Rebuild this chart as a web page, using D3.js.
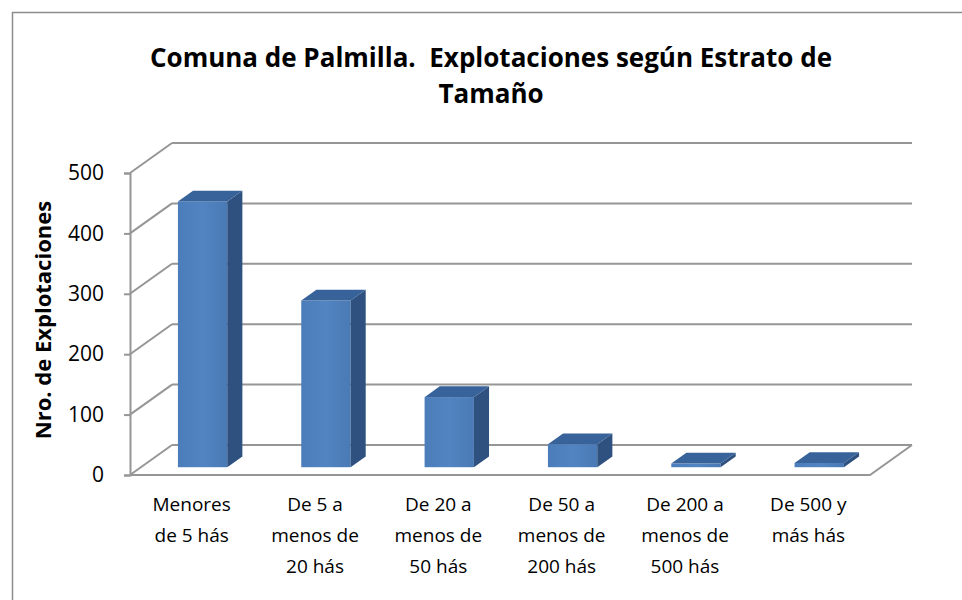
<!DOCTYPE html>
<html>
<head>
<meta charset="utf-8">
<script src="https://cdn.jsdelivr.net/npm/d3@7"></script>
<style>
  body { margin: 0; background: #fff; }
  svg { font-family: "Liberation Sans Narrow", "Open Sans", sans-serif; }
</style>
</head>
<body>
<svg id="chart" width="962" height="600"></svg>
<script>
const categories = [
    ["Menores", "de 5 hás"],
    ["De 5 a", "menos de", "20 hás"],
    ["De 20 a", "menos de", "50 hás"],
    ["De 50 a", "menos de", "200 hás"],
    ["De 200 a", "menos de", "500 hás"],
    ["De 500 y", "más hás"]
];
const values = [440, 276, 116, 38, 6, 7];
const yTicks = [0, 100, 200, 300, 400, 500];
const titleLines = ["Comuna de Palmilla.  Explotaciones según Estrato de", "Tamaño"];
const yTitle = "Nro. de Explotaciones";

const svg = d3.select("#chart");

// depth offset of the back wall
const DX = 42, DY = -30;
const barT0 = 0.26, barT1 = 0.62;

const keys = categories.map((c, i) => i);
const xScale = d3.scaleBand()
    .domain(keys)
    .range([130, 870])
    .paddingInner(0.6)
    .paddingOuter(0.3);

const yScale = d3.scaleLinear()
    .domain([0, 500])
    .range([475, 173]);

// subtle shading on bar fronts
const grad = svg.append("defs").append("linearGradient")
    .attr("id", "front").attr("x1", 0).attr("x2", 1).attr("y1", 0).attr("y2", 0);
grad.append("stop").attr("offset", 0).attr("stop-color", "#4c7dbb");
grad.append("stop").attr("offset", 0.5).attr("stop-color", "#5184c1");
grad.append("stop").attr("offset", 1).attr("stop-color", "#4a7ab6");

// outer border
svg.append("rect")
    .attr("x", 12.5).attr("y", 12.5)
    .attr("width", 990).attr("height", 620)
    .attr("fill", "none")
    .attr("stroke", "#8c8c8c")
    .attr("stroke-width", 1.5);

// title
svg.append("g").selectAll("text")
    .data(titleLines)
    .enter().append("text")
    .attr("x", 491)
    .attr("y", (d, i) => 67 + i * 36)
    .attr("text-anchor", "middle")
    .attr("font-size", 26)
    .attr("font-weight", "bold")
    .style("white-space", "pre")
    .text(d => d);

const grid = svg.append("g")
    .attr("stroke", "#969696")
    .attr("stroke-width", 2)
    .attr("fill", "none");

// back wall gridlines
grid.selectAll(".back")
    .data(yTicks)
    .enter().append("line")
    .attr("x1", 130 + DX).attr("x2", 870 + DX)
    .attr("y1", d => yScale(d) + DY).attr("y2", d => yScale(d) + DY);

// side wall lines
grid.selectAll(".side")
    .data(yTicks)
    .enter().append("line")
    .attr("x1", 130).attr("x2", 130 + DX)
    .attr("y1", d => yScale(d)).attr("y2", d => yScale(d) + DY);

// floor front + right edge
grid.append("path")
    .attr("d", `M130,${yScale(0)}L870,${yScale(0)}L${870 + DX},${yScale(0) + DY}`);

// y axis
const yAxis = svg.append("g")
    .attr("transform", "translate(130,0)")
    .call(d3.axisLeft(yScale).tickValues(yTicks).tickSize(6).tickPadding(20));
yAxis.select(".domain").attr("stroke", "#969696").attr("stroke-width", 2);
yAxis.selectAll(".tick line").attr("stroke", "#969696").attr("stroke-width", 2);
yAxis.selectAll(".tick text")
    .attr("font-size", 21)
    .attr("font-family", "Liberation Sans Narrow, Open Sans, sans-serif")
    .attr("fill", "#000");

// y axis title
svg.append("text")
    .attr("transform", "translate(51,320) rotate(-90)")
    .attr("text-anchor", "middle")
    .attr("font-size", 22)
    .attr("font-weight", "bold")
    .text(yTitle);

// 3d bars
const bars = svg.append("g").selectAll("g")
    .data(values)
    .enter().append("g");

const pt = (x, v, t) => [x + t * DX, yScale(v) + t * DY];

bars.each(function (v, i) {
    const g = d3.select(this);
    const x0 = xScale(i), x1 = xScale(i) + xScale.bandwidth();
    const poly = pts => pts.map(p => p.join(",")).join(" ");
    // front
    const fl = pt(x0, v, barT0), fb = pt(x0, 0, barT0);
    g.append("rect")
        .attr("x", fl[0]).attr("y", fl[1])
        .attr("width", x1 - x0).attr("height", fb[1] - fl[1])
        .attr("fill", "url(#front)");
    // side
    g.append("polygon")
        .attr("points", poly([pt(x1, 0, barT0), pt(x1, v, barT0), pt(x1, v, barT1), pt(x1, 0, barT1)]))
        .attr("fill", "#2f5180");
    // top
    g.append("polygon")
        .attr("points", poly([pt(x0, v, barT0), pt(x1, v, barT0), pt(x1, v, barT1), pt(x0, v, barT1)]))
        .attr("fill", "#38639a");
});

// category labels
const labels = svg.append("g").selectAll("text")
    .data(categories)
    .enter().append("text")
    .attr("x", (d, i) => xScale(i) + xScale.bandwidth() / 2)
    .attr("y", 511)
    .attr("text-anchor", "middle")
    .attr("font-size", 19);

labels.selectAll("tspan")
    .data(d => d)
    .enter().append("tspan")
    .attr("x", function () { return d3.select(this.parentNode).attr("x"); })
    .attr("dy", (d, i) => i === 0 ? 0 : 31)
    .text(d => d);
</script>
</body>
</html>
